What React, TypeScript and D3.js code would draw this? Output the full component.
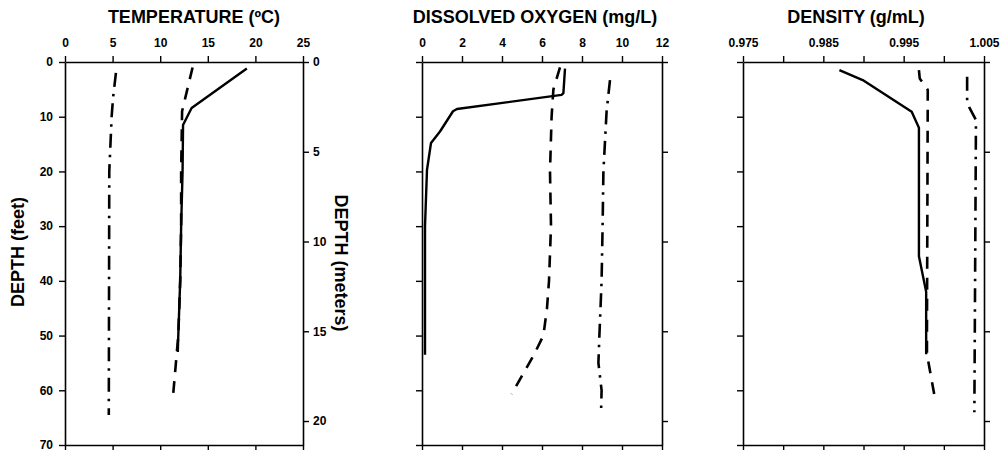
import { useEffect, useRef } from "react";
import { select, scaleLinear, axisTop, axisBottom, axisLeft, axisRight, line } from "d3";

// depth axis ticks
const feetTicks = [0, 10, 20, 30, 40, 50, 60, 70];
const meterTicks = [0, 5, 10, 15, 20];

// value axis ticks
const tempTicks = [0, 5, 10, 15, 20, 25];
const oxygenTicks = [0, 2, 4, 6, 8, 10, 12];
const densityTicks = [0.975, 0.98, 0.985, 0.99, 0.995, 1.0, 1.005];
const densityLabels = [0.975, 0.985, 0.995, 1.005];

// temperature profiles (depth in feet, value in deg C)
const tempSolidDepth = [1.2, 8.4, 11.5, 20, 30, 40, 50, 53];
const tempSolid = [19.1, 13.3, 12.4, 12.35, 12.2, 12.1, 11.9, 11.85];
const tempDashedDepth = [1, 9, 20, 30, 40, 50, 61];
const tempDashed = [13.4, 12.3, 12.2, 12.2, 12.1, 11.9, 11.35];
const tempDashDotDepth = [2, 6.5, 10, 20, 64.5];
const tempDashDot = [5.35, 5.05, 4.9, 4.65, 4.6];

// dissolved oxygen profiles (mg/L)
const oxySolidDepth = [1.2, 5.7, 6.0, 8.6, 9.0, 12.7, 14.8, 19.7, 30, 53.5];
const oxySolid = [7.15, 7.07, 6.98, 1.75, 1.55, 0.9, 0.45, 0.25, 0.15, 0.15];
const oxyDashedDepth = [1, 5, 10, 20, 30, 40, 45, 50, 53.7, 60.7];
const oxyDashed = [6.9, 6.57, 6.48, 6.4, 6.45, 6.35, 6.25, 6.07, 5.57, 4.48];
const oxyDashDotDepth = [3.3, 9, 20, 30, 40, 50, 55, 60, 64.3];
const oxyDashDot = [9.4, 9.23, 9.07, 9.03, 8.98, 8.87, 8.82, 8.98, 8.95];

// density profiles (g/mL)
const densSolidDepth = [1.5, 3.3, 9.1, 12, 35.5, 42, 53.4];
const densSolid = [0.987, 0.9899, 0.996, 0.9969, 0.9969, 0.9978, 0.9978];
const densDashedDepth = [1.5, 3, 5.1, 50, 53.4, 60.7];
const densDashed = [0.9969, 0.997, 0.998, 0.9979, 0.9979, 0.9988];
const densDashDotDepth = [2.7, 7, 8.4, 10.6, 64];
const densDashDot = [1.0029, 1.0029, 1.0032, 1.004, 1.0038];

const FONT = "'Liberation Sans', Arial, sans-serif";
const TOP = 62;
const BOTTOM = 445;

const styles: Record<string, string | null> = {
  solid: null,
  dashed: "12 9",
  dashdot: "14 7 2.5 7",
};

const panels = [
  {
    title: "TEMPERATURE (\u00baC)",
    titleX: 194,
    left: 65,
    right: 303,
    domain: [0, 25],
    ticks: tempTicks,
    labels: tempTicks,
    fmt: (d: number) => String(d),
    depthLabels: true,
    series: [
      { style: "solid", depth: tempSolidDepth, values: tempSolid },
      { style: "dashed", depth: tempDashedDepth, values: tempDashed },
      { style: "dashdot", depth: tempDashDotDepth, values: tempDashDot },
    ],
  },
  {
    title: "DISSOLVED OXYGEN (mg/L)",
    titleX: 535,
    left: 422,
    right: 662,
    domain: [0, 12],
    ticks: oxygenTicks,
    labels: oxygenTicks,
    fmt: (d: number) => String(d),
    depthLabels: false,
    series: [
      { style: "solid", depth: oxySolidDepth, values: oxySolid },
      { style: "dashed", depth: oxyDashedDepth, values: oxyDashed },
      { style: "dashdot", depth: oxyDashDotDepth, values: oxyDashDot },
    ],
  },
  {
    title: "DENSITY (g/mL)",
    titleX: 856,
    left: 743,
    right: 984,
    domain: [0.975, 1.005],
    ticks: densityTicks,
    labels: densityLabels,
    fmt: (d: number) => d.toFixed(3),
    depthLabels: false,
    series: [
      { style: "solid", depth: densSolidDepth, values: densSolid },
      { style: "dashed", depth: densDashedDepth, values: densDashed },
      { style: "dashdot", depth: densDashDotDepth, values: densDashDot },
    ],
  },
];

const App: React.FC = () => {
  const svgRef = useRef<SVGSVGElement>(null);

  useEffect(() => {
    const svg = select(svgRef.current);
    svg.selectAll("*").remove();

    const yFeet = scaleLinear().domain([0, 70]).range([TOP, BOTTOM]);
    const yMeters = scaleLinear().domain([0, 70 * 0.3048]).range([TOP, BOTTOM]);

    panels.forEach((p) => {
      const x = scaleLinear().domain(p.domain).range([p.left, p.right]);
      const g = svg.append("g");

      g.append("text")
        .attr("x", p.titleX)
        .attr("y", 23)
        .attr("text-anchor", "middle")
        .attr("font-family", FONT)
        .attr("font-weight", "bold")
        .attr("font-size", 18)
        .text(p.title);

      // top axis with labels
      const top: any = axisTop(x)
        .tickValues(p.ticks)
        .tickSize(6)
        .tickSizeOuter(0)
        .tickPadding(9)
        .tickFormat((d: any) => (p.labels.some((l) => Math.abs(l - d) < 1e-9) ? p.fmt(d) : ""));
      g.append("g").attr("transform", `translate(0,${TOP})`).call(top);

      const bottom: any = axisBottom(x).tickValues(p.ticks).tickSize(5).tickSizeOuter(0).tickFormat(() => "");
      g.append("g").attr("transform", `translate(0,${BOTTOM})`).call(bottom);

      const leftAxis: any = axisLeft(yFeet)
        .tickValues(feetTicks)
        .tickSize(6)
        .tickSizeOuter(0)
        .tickPadding(6)
        .tickFormat((d: any) => (p.depthLabels ? String(d) : ""));
      g.append("g").attr("transform", `translate(${p.left},0)`).call(leftAxis);

      const rightAxis: any = axisRight(yMeters)
        .tickValues(meterTicks)
        .tickSize(6)
        .tickSizeOuter(0)
        .tickPadding(4)
        .tickFormat((d: any) => (p.depthLabels ? String(d) : ""));
      g.append("g").attr("transform", `translate(${p.right},0)`).call(rightAxis);

      g.selectAll(".domain").attr("stroke", "#000").attr("stroke-width", 1.6);
      g.selectAll(".tick line").attr("stroke", "#000").attr("stroke-width", 1.4);
      g.selectAll(".tick text")
        .attr("font-family", FONT)
        .attr("font-weight", "bold")
        .attr("font-size", 12)
        .attr("fill", "#000");

      const profile: any = line<[number, number]>()
        .x((d) => x(d[1]))
        .y((d) => yFeet(d[0]));

      p.series.forEach((s) => {
        const pts = s.depth.map((d, i) => [d, s.values[i]] as [number, number]);
        g.append("path")
          .attr("d", profile(pts))
          .attr("fill", "none")
          .attr("stroke", "#000")
          .attr("stroke-width", s.style === "solid" ? 2.4 : 2.6)
          .attr("stroke-dasharray", styles[s.style])
          .attr("stroke-linejoin", "round");
      });
    });

    svg
      .append("text")
      .attr("transform", "translate(24,252) rotate(-90)")
      .attr("text-anchor", "middle")
      .attr("font-family", FONT)
      .attr("font-weight", "bold")
      .attr("font-size", 18)
      .text("DEPTH (feet)");

    svg
      .append("text")
      .attr("transform", "translate(335,263) rotate(90)")
      .attr("text-anchor", "middle")
      .attr("font-family", FONT)
      .attr("font-weight", "bold")
      .attr("font-size", 18)
      .text("DEPTH (meters)");
  }, []);

  return (
    <svg
      ref={svgRef}
      width={1000}
      height={457}
      style={{ position: "absolute", left: 0, top: 0, background: "#fff" }}
    />
  );
};

export default App;
